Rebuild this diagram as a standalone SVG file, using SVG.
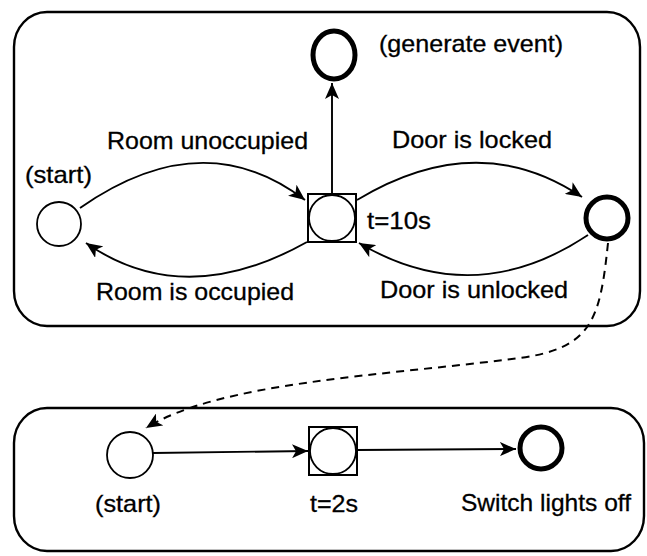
<svg xmlns="http://www.w3.org/2000/svg" width="647" height="556" viewBox="0 0 647 556">
<style>
.box{fill:none;stroke:#000;stroke-width:2.4}
.st{fill:#fff;stroke:#000;stroke-width:1.8}
.fin{fill:#fff;stroke:#000;stroke-width:5}
.sq{fill:#fff;stroke:#000;stroke-width:2}
.c{fill:none;stroke:#000;stroke-width:1.9;marker-end:url(#ah)}
.d{fill:none;stroke:#000;stroke-width:2;stroke-dasharray:8 6;marker-end:url(#ah)}
text{font-family:"Liberation Sans",Arial,sans-serif;font-size:24px;fill:#000;stroke:#000;stroke-width:0.3}
</style>
<defs>
<marker id="ah" markerUnits="userSpaceOnUse" markerWidth="18" markerHeight="14" refX="16" refY="7" orient="auto">
<path d="M0,0 L16,7 L0,14 L4,7 Z" fill="#000"/>
</marker>
</defs>
<rect class="box" x="14" y="12" width="626" height="314" rx="33" ry="35"/>
<rect class="box" x="14" y="408" width="630" height="143" rx="33" ry="35"/>
<g id="connectors">
<path class="c" d="M80,208 Q203,122 305,200"/>
<path class="c" d="M307,242 Q184,311 86,243"/>
<path class="c" d="M357,200 Q478,127 582,197"/>
<path class="c" d="M588,235 Q474,311 359,243"/>
<path class="c" d="M332,194 L332,83"/>
<path class="d" d="M608,243 C600,320 592,348 520,358 C380,376 220,382 146,428"/>
<path class="c" d="M153,453 L308,451"/>
<path class="c" d="M357,450 L516,449"/>
</g>
<g id="start1">
<circle class="st" cx="59" cy="224" r="22"/>
<text x="25" y="183" textLength="67" lengthAdjust="spacingAndGlyphs">(start)</text>
</g>
<g id="timer1">
<rect class="sq" x="308" y="194" width="48" height="48"/>
<circle class="st" cx="332" cy="218" r="23"/>
<text x="367" y="229" textLength="64" lengthAdjust="spacingAndGlyphs">t=10s</text>
</g>
<g id="generate">
<ellipse class="fin" cx="334" cy="55" rx="21" ry="24"/>
<text x="379" y="52" textLength="184" lengthAdjust="spacingAndGlyphs">(generate event)</text>
</g>
<g id="locked">
<circle class="fin" cx="607" cy="218" r="21"/>
</g>
<g id="labels1">
<text x="107" y="149" textLength="201" lengthAdjust="spacingAndGlyphs">Room unoccupied</text>
<text x="392" y="148" textLength="160" lengthAdjust="spacingAndGlyphs">Door is locked</text>
<text x="96" y="300" textLength="198" lengthAdjust="spacingAndGlyphs">Room is occupied</text>
<text x="380" y="298" textLength="188" lengthAdjust="spacingAndGlyphs">Door is unlocked</text>
</g>
<g id="start2">
<circle class="st" cx="130" cy="455" r="23"/>
<text x="95" y="512" textLength="66" lengthAdjust="spacingAndGlyphs">(start)</text>
</g>
<g id="timer2">
<rect class="sq" x="309" y="427" width="48" height="48"/>
<circle class="st" cx="333" cy="451" r="23"/>
<text x="310" y="512" textLength="48" lengthAdjust="spacingAndGlyphs">t=2s</text>
</g>
<g id="switch">
<circle class="fin" cx="541" cy="448" r="21"/>
<text x="461" y="511" textLength="170" lengthAdjust="spacingAndGlyphs">Switch lights off</text>
</g>
</svg>
